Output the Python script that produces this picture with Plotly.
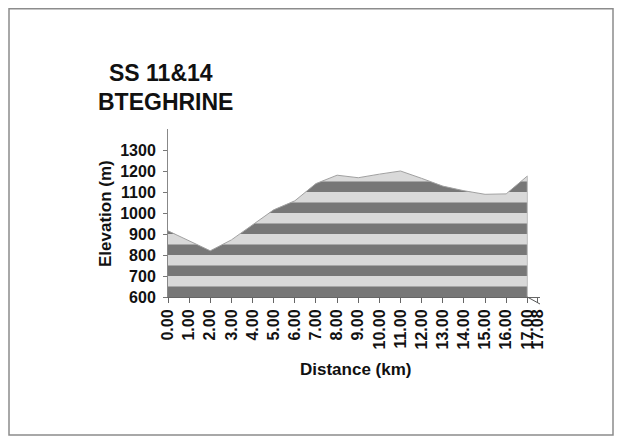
import plotly.graph_objects as go

# ---- data ----
distance_km = list(range(18))
elevation_m = [915, 868, 820, 872, 945, 1015, 1058, 1140, 1180, 1168,
               1185, 1200, 1165, 1128, 1106, 1089, 1091, 1176]
tick_labels = ["0.00", "1.00", "2.00", "3.00", "4.00", "5.00", "6.00", "7.00",
               "8.00", "9.00", "10.00", "11.00", "12.00", "13.00", "14.00",
               "15.00", "16.00", "17.00", "17.08"]
y_ticks = [600, 700, 800, 900, 1000, 1100, 1200, 1300]
title_lines = ["SS 11&14", "BTEGHRINE"]

# ---- geometry (page has an 8px body margin) ----
OFF = 8
W, H = 622 - OFF, 441 - OFF
L, T = 168 - OFF, 129 - OFF
PW, PH = 372, 168
R, B = W - L - PW, H - T - PH
Y_MIN, Y_MAX = 600, 1400
X_MAX = 17.6
band = 50


def px(xs):
    """screen x -> paper x"""
    return (xs - OFF - L) / PW


def py(ys):
    """screen y -> paper y"""
    return 1 - (ys - OFF - T) / PH


FONT = "Liberation Sans, Arial, sans-serif"
DARK = "#777777"
LIGHT = "#d9d9d9"

x_end = distance_km[-1]
tick_positions = distance_km + [x_end + 0.5]

fig = go.Figure()

# light base area
fig.add_trace(go.Scatter(x=distance_km, y=elevation_m, mode="lines",
                         line=dict(width=0), fill="tozeroy",
                         fillcolor=LIGHT, hoverinfo="skip", showlegend=False))

# dark stripes (every other 50 m band), only up to the highest point
top = max(elevation_m)
bx, by = [], []
for lo in range(Y_MIN, Y_MAX, 2 * band):
    if lo >= top:
        break
    hi = lo + band
    bx += [0, x_end, x_end, 0, 0, None]
    by += [lo, lo, hi, hi, lo, None]
fig.add_trace(go.Scatter(x=bx, y=by, mode="lines", line=dict(width=0),
                         fill="toself", fillcolor=DARK, hoverinfo="skip",
                         showlegend=False))

# white mask above the profile (slightly wider than the profile)
pad = 0.3
mask_x = [-pad] + distance_km + [x_end + pad, x_end + pad, -pad]
mask_y = [elevation_m[0]] + elevation_m + [elevation_m[-1], Y_MAX + 100, Y_MAX + 100]
fig.add_trace(go.Scatter(x=mask_x, y=mask_y, mode="lines", line=dict(width=0),
                         fill="toself", fillcolor="white", hoverinfo="skip",
                         showlegend=False))

# profile outline
fig.add_trace(go.Scatter(x=distance_km, y=elevation_m, mode="lines",
                         line=dict(color="#a0a0a0", width=1),
                         hoverinfo="skip", showlegend=False))
fig.add_trace(go.Scatter(x=[x_end, x_end], y=[elevation_m[-1], Y_MIN],
                         mode="lines", line=dict(color="#bdbdbd", width=1),
                         hoverinfo="skip", showlegend=False))

annotations = [
    dict(text=title_lines[0], x=px(160.5), y=py(73.3), xref="paper", yref="paper",
         xanchor="center", yanchor="middle", showarrow=False,
         font=dict(family=FONT, size=23, color="#111111", weight="bold")),
    dict(text=title_lines[1], x=px(165), y=py(101.6), xref="paper", yref="paper",
         xanchor="center", yanchor="middle", showarrow=False,
         font=dict(family=FONT, size=23, color="#111111", weight="bold")),
    dict(text="Distance (km)", x=px(355), y=py(369), xref="paper", yref="paper",
         xanchor="center", yanchor="middle", showarrow=False,
         font=dict(family=FONT, size=17, color="#111111", weight="bold")),
    dict(text="Elevation (m)", x=px(105), y=py(214), xref="paper", yref="paper",
         xanchor="center", yanchor="middle", showarrow=False, textangle=-90,
         font=dict(family=FONT, size=17, color="#111111", weight="bold")),
]

shapes = [
    # page frame
    dict(type="rect", xref="paper", yref="paper",
         x0=px(9), x1=px(613), y0=py(8.75), y1=py(435),
         line=dict(color="#8c8c8c", width=1.5), fillcolor="rgba(0,0,0,0)",
         layer="above"),
    # small tail at the end of the profile
    dict(type="line", xref="paper", yref="paper",
         x0=x_end / X_MAX, y0=0, x1=(tick_positions[-1] + 0.1) / X_MAX,
         y1=-7 / PH, line=dict(color="#555555", width=1), layer="above"),
]

fig.update_layout(
    width=W, height=H,
    margin=dict(l=L, r=R, t=T, b=B, pad=0),
    paper_bgcolor="white", plot_bgcolor="white",
    showlegend=False,
    annotations=annotations,
    shapes=shapes,
    font=dict(family=FONT, color="#111111"),
)

fig.update_xaxes(
    range=[0, X_MAX], tickmode="array", tickvals=tick_positions,
    ticktext=tick_labels, tickangle=-90, ticks="outside", ticklen=5,
    tickcolor="#666666", showline=True, linecolor="#666666", linewidth=1,
    showgrid=False, zeroline=False,
    tickfont=dict(family=FONT, size=16, color="#111111", weight="bold"),
)
fig.update_yaxes(
    range=[Y_MIN, Y_MAX], tickmode="array", tickvals=y_ticks,
    ticks="outside", ticklen=4, tickcolor="#777777", showline=True,
    linecolor="#888888", linewidth=1, showgrid=False, zeroline=False,
    ticklabelstandoff=4,
    tickfont=dict(family=FONT, size=16, color="#111111", weight="bold"),
)

fig.write_html("out.html")
